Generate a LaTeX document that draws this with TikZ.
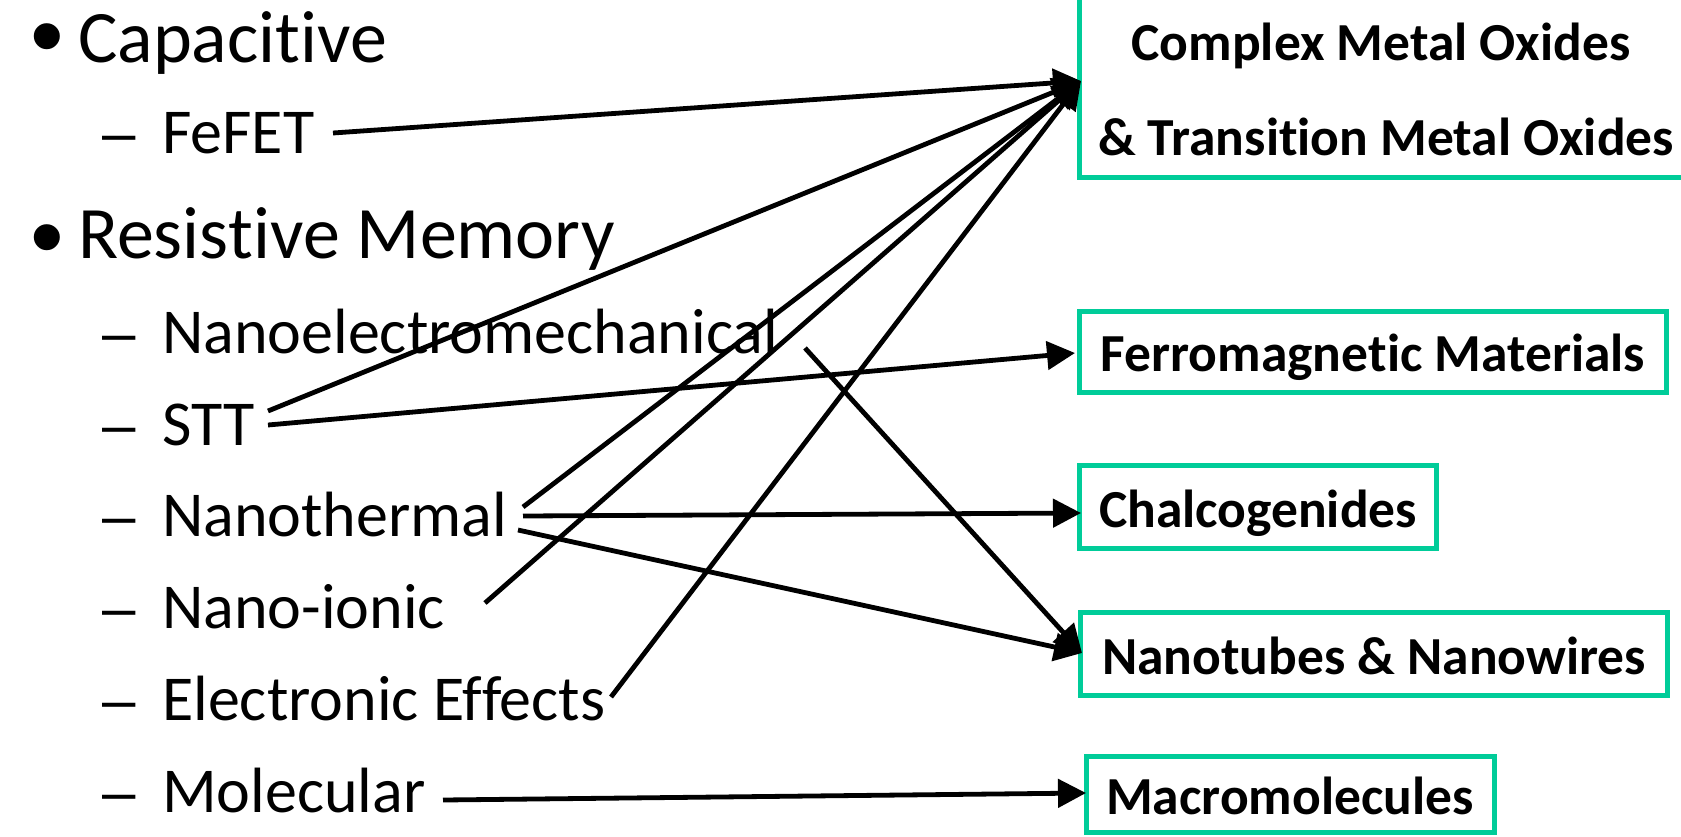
\documentclass[tikz,border=0pt]{standalone}
\usepackage{fontspec}
\setmainfont{Carlito}[Ligatures={NoCommon,NoRequired,NoContextual}]
\newfontfamily\dashfont{Liberation Sans}
\usetikzlibrary{arrows.meta}
\definecolor{boxgreen}{RGB}{0,204,153}
\begin{document}
\begin{tikzpicture}[x=1pt,y=-1pt,
  big/.style={anchor=base west, inner sep=0pt, font=\fontsize{74}{80}\selectfont},
  sub/.style={anchor=base west, inner sep=0pt, font=\fontsize{64}{70}\selectfont},
  dsh/.style={anchor=base west, inner sep=0pt, font=\dashfont\fontsize{60}{70}\selectfont},
  bul/.style={anchor=center, inner sep=0pt, font=\dashfont\fontsize{96}{100}\selectfont},
  box/.style={draw=boxgreen, line width=5pt, inner sep=0pt, font=\fontsize{53.5}{60}\selectfont\bfseries, text height=45pt, text depth=5pt},
  boxtext/.style={anchor=base, inner sep=0pt, font=\fontsize{53.5}{60}\selectfont\bfseries},
  arr/.style={line width=4.8pt, -{Triangle[length=28pt,width=28pt]}}]
\useasboundingbox (0,0) rectangle (1681,836);

% left column
\node[bul] (b1) at (47,46) {•};
\node[big] (cap) at (78,62) {Capaci\kern0pt tive};
\node[dsh] (d1) at (102,153) {–};
\node[sub] (fefet) at (162,153) {FeFET};
\node[bul] (b2) at (47,247) {•};
\node[big] (res) at (78,258) {Resis\kern0pt tive Memory};
\node[dsh] (d2) at (102,353) {–};
\node[sub] (nems) at (162,353) {Nanoelectromechanical};
\node[dsh] (d3) at (102,445) {–};
\node[sub] (stt) at (162,445) {STT};
\node[dsh] (d4) at (102,536) {–};
\node[sub] (nth) at (162,536) {Nanothermal};
\node[dsh] (d5) at (102,628) {–};
\node[sub] (nion) at (162,628) {Nano-ionic};
\node[dsh] (d6) at (102,720) {–};
\node[sub] (elec) at (162,720) {Electronic Ef\kern0pt fects};
\node[dsh] (d7) at (102,812) {–};
\node[sub] (mol) at (162,812) {Molecular};

% right boxes
\node[box, minimum width=641pt, minimum height=197pt] (cmo) at (1400,78.5) {};
\node[boxtext] (cmo1) at (1381,60) {Complex Metal Oxides};
\node[boxtext] (cmo2) at (1386,155) {\& Transi\kern0pt tion Metal Oxides};
\node[box, minimum width=587.5pt, minimum height=81pt] (fer) at (1373,351.5) {Ferromagne\kern0pt tic Materials};
\node[box, minimum width=357.5pt, minimum height=83.5pt] (chal) at (1258,507) {Chalcogenides};
\node[box, minimum width=586.5pt, minimum height=82.5pt] (nt) at (1374,654) {Nanotubes \& Nanowires};
\node[box, minimum width=408pt, minimum height=76pt] (mac) at (1290,794) {Macromolecules};

% connector ends
\coordinate (s-fefet) at (333,133);
\coordinate (s-stt1) at (268,411);
\coordinate (s-stt2) at (268,425);
\coordinate (s-nth1) at (523,507);
\coordinate (s-nth2) at (523,516);
\coordinate (s-nth3) at (518,530);
\coordinate (s-nion) at (485,603);
\coordinate (s-elec) at (611,697);
\coordinate (s-nems) at (805,348);
\coordinate (s-mol) at (443,800);
\coordinate (t-cmo) at (1081,81);
\coordinate (t-fer) at (1075,353);
\coordinate (t-chal) at (1081,513);
\coordinate (t-nt) at (1082,653);
\coordinate (t-mac) at (1086,793);

% connectors
\draw[arr] (s-fefet) -- (t-cmo);
\draw[arr] (s-stt1) -- (t-cmo);
\draw[arr] (s-stt2) -- (t-fer);
\draw[arr] (s-nth1) -- (t-cmo);
\draw[arr] (s-nth2) -- (t-chal);
\draw[arr] (s-nth3) -- (t-nt);
\draw[arr] (s-nion) -- (t-cmo);
\draw[arr] (s-elec) -- (t-cmo);
\draw[arr] (s-nems) -- (t-nt);
\draw[arr] (s-mol) -- (t-mac);
\end{tikzpicture}
\end{document}
